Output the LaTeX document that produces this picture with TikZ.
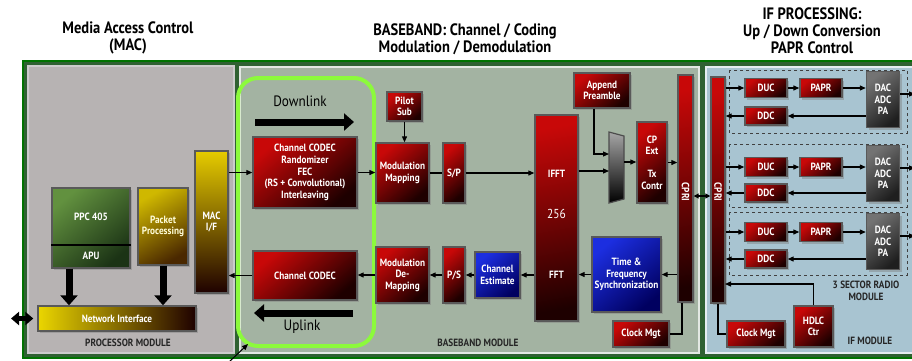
\documentclass[tikz,border=0pt]{standalone}
\usepackage{fontspec}
\setmainfont{PT Sans}[FakeStretch=0.88]
\usetikzlibrary{arrows.meta,shadows}

\definecolor{boxred}{HTML}{C80808}
\definecolor{boxdark}{HTML}{1E0000}
\definecolor{boxblue}{HTML}{1C2EE0}
\definecolor{boxnavy}{HTML}{000060}
\definecolor{framegreen}{HTML}{2F6132}
\definecolor{procgray}{HTML}{B7B3B3}
\definecolor{bbgreen}{HTML}{A3B3A2}
\definecolor{ifblue}{HTML}{A8C4D1}
\definecolor{linkgreen}{HTML}{8CFA3C}
\definecolor{ppcgreen}{HTML}{62913F}
\definecolor{ppcdark}{HTML}{1B3315}
\definecolor{gold}{HTML}{E6CC00}
\definecolor{umber}{HTML}{4A2800}

\begin{document}
\begin{tikzpicture}[x=1pt, y=-1pt, line width=1.2pt, >={Triangle[length=6pt,width=5pt]},
  boxtxt/.style={text=white, font=\bfseries\fontsize{10.5}{11.6}\selectfont, align=center, inner sep=0pt},
  blk/.style={boxtxt, draw=black!65, line width=1.4pt,
    drop shadow={shadow xshift=2pt, shadow yshift=-2pt, opacity=0.45}},
  redblk/.style={blk, top color=boxred, bottom color=boxdark, shading angle=40},
  blueblk/.style={blk, top color=boxblue, bottom color=boxnavy, shading angle=40},
  grayblk/.style={blk, top color=black!55, bottom color=black!88, shading angle=40},
  barblk/.style={blk, top color=boxred, bottom color=boxdark, shading angle=10},
  head/.style={font=\bfseries\fontsize{16.5}{17}\selectfont, align=center, inner sep=0pt},
  modlabel/.style={font=\bfseries\fontsize{10.5}{12}\selectfont, text=black!85, align=center, inner sep=0pt},
  linklabel/.style={font=\fontsize{15}{17}\selectfont, inner sep=0pt},
  fat/.style={line width=7pt, -{Triangle[length=10pt,width=17pt]}},
  fatboth/.style={line width=5pt, {Triangle[length=8pt,width=13pt]}-{Triangle[length=8pt,width=13pt]}}]
  \useasboundingbox (0,0) rectangle (912,360);
  \clip (0,0) rectangle (912,360);

  % module panels
  \filldraw[fill=framegreen, draw=green!45!black, line width=2pt] (23,61) rectangle (930,358);
  \filldraw[fill=procgray, draw=white!80!black, line width=1.5pt] (28,66) rectangle (234,353);
  \filldraw[fill=bbgreen, draw=white!70!bbgreen, line width=1.5pt] (240,67) rectangle (699,353);
  \filldraw[fill=ifblue, draw=white!70!ifblue, line width=1.5pt] (706,67) rectangle (925,353);

  % headings
  \node[head] (machead) at (128,38) {Media Access Control\\(MAC)};
  \node[head] (bbhead) at (465,39) {BASEBAND: Channel / Coding\\Modulation / Demodulation};
  \node[head] (ifhead) at (812,31) {IF PROCESSING:\\Up / Down Conversion\\PAPR Control};

  % processor module
  \node[blk, top color=ppcgreen, bottom color=ppcdark, shading angle=40, minimum width=78pt, minimum height=80pt] (ppc) at (91,228) {};
  \draw[line width=2pt] ([yshift=24pt]ppc.south west) -- ([yshift=24pt]ppc.south east);
  \node[boxtxt] (ppclbl) at (91,217) {PPC 405};
  \node[boxtxt] (apulbl) at (91,256) {APU};
  \node[blk, top color=gold!90!black, bottom color=umber, shading angle=30, text=white!85!yellow, minimum width=50pt, minimum height=77pt] (pkt) at (163,226.5) {Packet\\Processing};
  \node[blk, top color=gold, bottom color=boxdark, minimum width=33pt, minimum height=142pt] (macif) at (211.5,222) {MAC\\I/F};
  \node[blk, left color=gold!80!yellow, right color=boxdark, minimum width=158pt, minimum height=25pt] (netif) at (117,318.5) {Network Interface};
  \coordinate (lantip) at (11,318.5);
  \draw[fat] ([xshift=-22pt]ppc.south) -- ([xshift=-22pt]ppc.south |- netif.north);
  \draw[fat] (pkt.south) -- (pkt.south |- netif.north);
  \draw[fatboth] (lantip) -- ([xshift=-4pt]netif.west);
  \node[modlabel] (proclbl) at (128,343) {PROCESSOR MODULE};

  % baseband module
  \node[draw=linkgreen, line width=4pt, rounded corners=20pt, minimum width=136pt, minimum height=268pt, inner sep=0pt] (linkbox) at (306,212) {};
  \node[linklabel] (dllbl) at (300,101) {Downlink};
  \node[linklabel] (ullbl) at (302,327) {Uplink};
  \coordinate (dlstart) at (255,122);
  \coordinate (dlend) at (354,122);
  \coordinate (ulstart) at (353,313);
  \coordinate (ulend) at (254,313);
  \draw[fat] (dlstart) -- (dlend);
  \draw[fat] (ulstart) -- (ulend);
  \node[redblk, minimum width=104pt, minimum height=71pt] (codecdl) at (305,172.5) {Channel CODEC\\Randomizer\\FEC\\(RS + Convolutional)\\Interleaving};
  \node[redblk, minimum width=104pt, minimum height=49pt] (codecul) at (305,275.5) {Channel CODEC};
  \node[redblk, minimum width=35pt, minimum height=29pt] (pilot) at (404.5,106.5) {Pilot\\Sub};
  \node[redblk, minimum width=53pt, minimum height=60pt] (modmap) at (402.5,173) {Modulation\\Mapping};
  \node[redblk, minimum width=22pt, minimum height=60pt] (sp) at (454,173) {S/P};
  \node[redblk, minimum width=53pt, minimum height=56pt] (demap) at (402.5,275) {Modulation\\De-\\Mapping};
  \node[redblk, minimum width=22pt, minimum height=56pt] (ps) at (454,275) {P/S};
  \node[blueblk, minimum width=45pt, minimum height=46pt] (chest) at (497.5,275) {Channel\\Estimate};
  \node[barblk, minimum width=43pt, minimum height=206pt] (fft) at (556.5,218) {};
  \node[boxtxt] (ifftlbl) at (556.5,174) {IFFT};
  \node[boxtxt, font=\fontsize{13}{14}\selectfont] (fftsize) at (556.5,214) {256};
  \node[boxtxt] (fftlbl) at (556.5,275) {FFT};
  \node[redblk, minimum width=56pt, minimum height=35pt] (preamble) at (602,90.5) {Append\\Preamble};
  \shade[top color=black!35, bottom color=black, draw=black!70, line width=1.2pt] (609,132) -- (624,136) -- (624,199) -- (609,203) -- cycle;
  \coordinate (muxin1) at (609,154);
  \coordinate (muxin2) at (609,171);
  \coordinate (muxout) at (624,162);
  \node[redblk, minimum width=30pt, minimum height=81pt] (cpext) at (652,162.5) {CP\\Ext\\[11pt]Tx\\Contr};
  \node[barblk, minimum width=15pt, minimum height=227pt] (cpribb) at (685.5,188.5) {};
  \node[boxtxt, rotate=-90] (cpribblbl) at (685.5,192) {CPRI};
  \node[blueblk, minimum width=69pt, minimum height=75pt] (tfsync) at (626.5,274.5) {Time \&\\Frequency\\Synchronization};
  \node[redblk, minimum width=56pt, minimum height=26pt] (clkbb) at (641,334) {Clock Mgt};
  \node[modlabel] (bblbl) at (478,343) {BASEBAND MODULE};

  % downlink path
  \draw[->] (macif.east |- codecdl.west) -- (codecdl.west);
  \draw[->] (codecdl.east) -- (codecdl.east -| modmap.west);
  \draw (modmap.east |- sp.west) -- (sp.west);
  \draw[->] (sp.east) -- (sp.east -| fft.west);
  \draw[->] (pilot.south) -- (pilot.south |- modmap.north);
  \draw[->] ([xshift=-8pt]preamble.south) |- (muxin1);
  \draw[->] (fft.east |- muxin2) -- (muxin2);
  \draw[->] (muxout) -- (muxout -| cpext.west);
  \draw[->] (cpext.east) -- (cpext.east -| cpribb.west);
  % uplink path
  \draw[->] (cpribb.west |- tfsync.east) -- (tfsync.east);
  \draw[->] (tfsync.west) -- (tfsync.west -| fft.east);
  \draw[->] (fft.west |- chest.east) -- (chest.east);
  \draw[->] (chest.west) -- (chest.west -| ps.east);
  \draw[->] (ps.west) -- (ps.west -| demap.east);
  \draw[->] (demap.west) -- (demap.west -| codecul.east);
  \draw[->] (codecul.west) -- (codecul.west -| macif.east);
  \draw ([xshift=-3.5pt]cpribb.south) |- (clkbb.east);
  \coordinate (callout) at (229,362);
  \draw[->, line width=1pt] (callout) -- ([shift={(12pt,4pt)}]linkbox.south west);

  % IF module
  \node[barblk, minimum width=14pt, minimum height=226pt] (cprif) at (718,190) {};
  \node[boxtxt, rotate=-90] (cpriflbl) at (718,192) {CPRI};
  \coordinate (cprilink) at (702,196);
  \draw[{Triangle[length=5pt,width=5pt]}-{Triangle[length=5pt,width=5pt]}] (cpribb.east |- cprilink) -- (cprif.west |- cprilink);
  \foreach \s/\t/\u/\d in {1/70/88/116, 2/144/167/193, 3/212/232/259} {
    \draw[dashed, line width=0.8pt, black!75] (729,\t) rectangle (907,\t+63);
    \node[redblk, minimum width=42pt, minimum height=19pt] (duc\s) at (766,\u) {DUC};
    \node[redblk, minimum width=42pt, minimum height=19pt] (papr\s) at (821,\u) {PAPR};
    \node[redblk, minimum width=42pt, minimum height=18pt] (ddc\s) at (766,\d) {DDC};
    \node[grayblk, minimum width=33pt, minimum height=56pt] (dac\s) at (883,\t+29.5) {DAC\\ADC\\PA};
    \coordinate (out\s) at (915,\t+24);
    \draw[->] (cprif.east |- duc\s.west) -- (duc\s.west);
    \draw[->] (duc\s.east) -- (papr\s.west);
    \draw[->] (papr\s.east) -- (papr\s.east -| dac\s.west);
    \draw[->] (dac\s.west |- ddc\s.east) -- (ddc\s.east);
    \draw[->] (ddc\s.west) -- (ddc\s.west -| cprif.east);
    \draw[->] (dac\s.east |- out\s) -- (out\s);
  }
  \node[modlabel] (sectorlbl) at (866,291) {3 SECTOR RADIO\\MODULE};
  \node[modlabel] (iflbl) at (870,341) {IF MODULE};
  \node[redblk, minimum width=58pt, minimum height=26pt] (clkif) at (756,334) {Clock Mgt};
  \node[redblk, minimum width=39pt, minimum height=41pt] (hdlc) at (813.5,326.5) {HDLC\\Ctr};
  \coordinate (hdlcin) at (725,284);
  \draw (cprif.south) |- (clkif.west);
  \draw[->] (hdlc.north) |- (hdlcin);
\end{tikzpicture}
\end{document}
